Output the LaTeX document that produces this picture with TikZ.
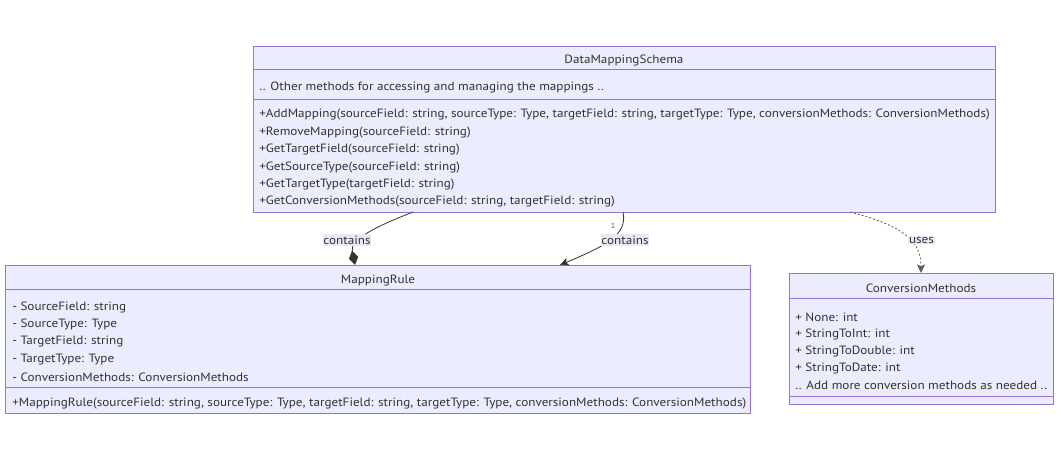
\documentclass[tikz,border=0pt]{standalone}
\usepackage{fontspec}
\setmainfont[FakeStretch=1.096]{PT Sans}
\usetikzlibrary{arrows.meta}
\definecolor{boxfill}{HTML}{ECECFF}
\definecolor{boxline}{HTML}{9370DB}
\definecolor{txt}{HTML}{333333}
\definecolor{lblbg}{HTML}{E8E8F8}
\newcommand{\fsz}{\fontsize{9pt}{10pt}\selectfont}
\tikzset{
  umlbox/.style={draw=boxline, fill=boxfill, line width=0.75pt, inner sep=0pt, outer sep=0pt},
  divider/.style={draw=boxline, line width=0.75pt},
  mtext/.style={anchor=west, inner sep=0pt, text=txt, font=\fsz, yshift=-1.5pt},
  ttl/.style={anchor=center, inner sep=0pt, text=txt, font=\fsz, yshift=-1.2pt},
  edgeline/.style={draw=txt, line width=0.6pt},
  usesline/.style={draw=txt!80, line width=0.6pt, dash pattern=on 1.5pt off 1.5pt},
  lbl/.style={fill=lblbg, inner xsep=0.5pt, inner ysep=1pt, text=txt, font=\fsz},
  mult/.style={inner sep=0pt, text=txt!80, font=\fontsize{5.5pt}{6pt}\selectfont},
}
\begin{document}
\begin{tikzpicture}[x=0.75pt,y=-0.75pt]
\fill[white] (0,0) rectangle (1061,462);
\useasboundingbox (0,0) rectangle (1061,462);

% DataMappingSchema
\node[umlbox, anchor=north west, minimum width=742*0.75pt, minimum height=166*0.75pt] (dms) at (253,46) {};
\draw[divider] (253,69.5) -- (995,69.5);
\draw[divider] (253,99.5) -- (995,99.5);
\node[ttl] (dmsT) at (624,59) {DataMappingSchema};
\node[mtext] (dmsA) at (259,85) {.. Other methods for accessing and managing the mappings ..};
\node[mtext] (dmsM1) at (259,113) {+AddMapping(sourceField: string, sourceType: Type, targetField: string, targetType: Type, conversionMethods: ConversionMethods)};
\node[mtext] (dmsM2) at (259,130.4) {+RemoveMapping(sourceField: string)};
\node[mtext] (dmsM3) at (259,147.8) {+GetTargetField(sourceField: string)};
\node[mtext] (dmsM4) at (259,165.2) {+GetSourceType(sourceField: string)};
\node[mtext] (dmsM5) at (259,182.6) {+GetTargetType(targetField: string)};
\node[mtext] (dmsM6) at (259,200) {+GetConversionMethods(sourceField: string, targetField: string)};

% MappingRule
\node[umlbox, anchor=north west, minimum width=744.5*0.75pt, minimum height=148*0.75pt] (mr) at (5.5,265) {};
\draw[divider] (5.5,289) -- (750,289);
\draw[divider] (5.5,387) -- (750,387);
\node[ttl] (mrT) at (378,279) {MappingRule};
\node[mtext] (mrA1) at (12,305) {- SourceField: string};
\node[mtext] (mrA2) at (12,322.5) {- SourceType: Type};
\node[mtext] (mrA3) at (12,340) {- TargetField: string};
\node[mtext] (mrA4) at (12,357.5) {- TargetType: Type};
\node[mtext] (mrA5) at (12,375) {- ConversionMethods: ConversionMethods};
\node[mtext] (mrM1) at (12,402) {+MappingRule(sourceField: string, sourceType: Type, targetField: string, targetType: Type, conversionMethods: ConversionMethods)};

% ConversionMethods
\node[umlbox, anchor=north west, minimum width=264*0.75pt, minimum height=131*0.75pt] (cm) at (789,273) {};
\draw[divider] (789,298) -- (1053,298);
\draw[divider] (789,396) -- (1053,396);
\node[ttl] (cmT) at (921,287) {ConversionMethods};
\node[mtext] (cmA1) at (795,315) {+ None: int};
\node[mtext] (cmA2) at (795,332) {+ StringToInt: int};
\node[mtext] (cmA3) at (795,349) {+ StringToDouble: int};
\node[mtext] (cmA4) at (795,366) {+ StringToDate: int};
\node[mtext] (cmA5) at (795,383.5) {.. Add more conversion methods as needed ..};

% connector end points
\coordinate (e1s) at ([xshift=160*0.75pt]dms.south west);
\coordinate (e1e) at ([xshift=349.5*0.75pt]mr.north west);
\coordinate (e2s) at ([xshift=370*0.75pt]dms.south west);
\coordinate (e2e) at ([xshift=554.5*0.75pt]mr.north west);
\coordinate (e3s) at ([xshift=597*0.75pt]dms.south west);
\coordinate (e3e) at (cm.north);

\draw[edgeline, -{Diamond[length=11pt, width=7pt]}] (e1s) .. controls (372,228) and (350,240) .. (e1e);
\draw[edgeline, -{Stealth[length=6.5pt, width=6pt, inset=1.5pt]}] (e2s) .. controls (628,235) and (605,246) .. (e2e);
\draw[usesline, -{Stealth[length=6.5pt, width=6pt, inset=1.5pt]}] (e3s) .. controls (905,226) and (921,242) .. (e3e);

\node[lbl] (l1) at (347,240) {contains};
\node[lbl] (l2) at (625,240) {contains};
\node[lbl] (l3) at (921.5,240) {uses};
\node[mult] (m1) at (613,226) {1};
\end{tikzpicture}
\end{document}
